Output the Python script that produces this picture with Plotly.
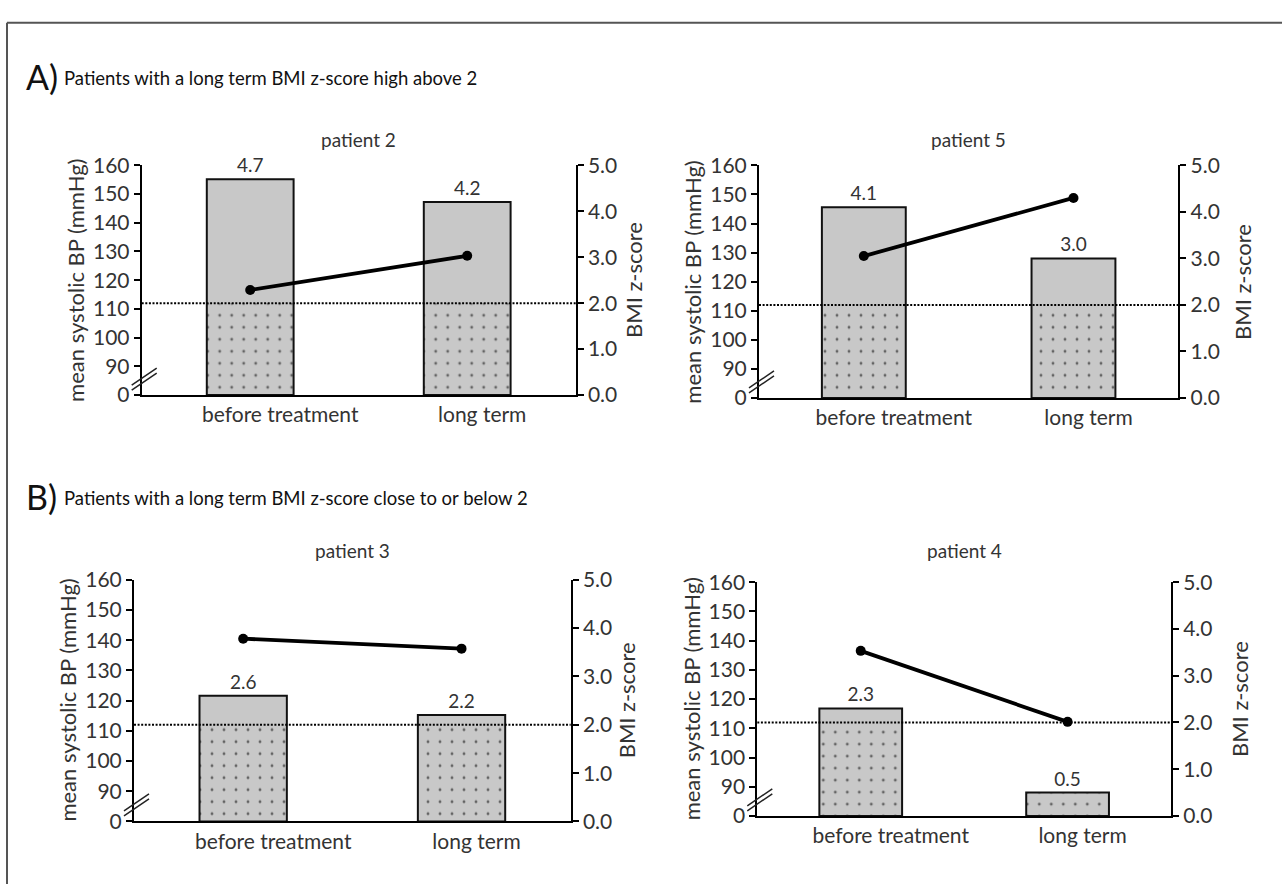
import plotly.graph_objects as go

W, H = 1282, 895

# ---------------- data ----------------
categories = ["before treatment", "long term"]
patient_names = ["patient 2", "patient 5", "patient 3", "patient 4"]

bmi_p2 = [4.7, 4.2]
bmi_p5 = [4.1, 3.0]
bmi_p3 = [2.6, 2.2]
bmi_p4 = [2.3, 0.5]

bp_p2 = [116.6, 128.5]
bp_p5 = [128.8, 148.8]
bp_p3 = [140.5, 137.2]
bp_p4 = [136.5, 112.2]

bp_tickvals = [80, 90, 100, 110, 120, 130, 140, 150, 160]
bp_ticktext = ["0", "90", "100", "110", "120", "130", "140", "150", "160"]
z_tickvals = [0, 1, 2, 3, 4, 5]
z_ticktext = ["0.0", "1.0", "2.0", "3.0", "4.0", "5.0"]
z_threshold = 2.0

section_A = "Patients with a long term BMI z-score high above 2"
section_B = "Patients with a long term BMI z-score close to or below 2"
bp_title = "mean systolic BP (mmHg)"
z_title = "BMI z-score"

bmi_all = [bmi_p2, bmi_p5, bmi_p3, bmi_p4]
bp_all = [bp_p2, bp_p5, bp_p3, bp_p4]

# ---------------- layout (pixel boxes of each panel) ----------------
boxes = [  # x_left, x_right, y_top, y_bottom
    (141.7, 575.7, 155.7, 392.0),
    (759.0, 1178.3, 155.7, 395.0),
    (134.0, 570.7, 582.0, 830.7),
    (757.3, 1171.0, 584.5, 825.0),
]
title_y_px = [129, 129, 552, 552]
right_title_shift = [58, 64, 56, 68]
label_shift_px = [30, 15]

GRAY = "#c8c8c8"
TXT = "#333333"
FONT = "Lato, 'Open Sans', sans-serif"

fig = go.Figure()
layout = dict(
    width=W, height=H, margin=dict(l=0, r=0, t=0, b=0),
    paper_bgcolor="white", plot_bgcolor="rgba(0,0,0,0)",
    barmode="overlay", showlegend=False,
    font=dict(family=FONT, color=TXT, size=18),
)
annotations = []
shapes = []


def axkey(aid):
    return aid[0] + "axis" + aid[1:]


xs = list(range(len(categories)))

for i in range(4):
    n = i + 1
    xid = "x" if n == 1 else f"x{n}"
    zid = "y" if n == 1 else f"y{2 * n - 1}"
    bpid = f"y{2 * n}"
    x0p, x1p, y0p, y1p = boxes[i]
    bmi = bmi_all[i]
    bp = bp_all[i]
    slot_px = (x1p - x0p) / 2.0

    fig.add_trace(go.Bar(x=xs, y=bmi, width=0.4, xaxis=xid, yaxis=zid,
                         marker=dict(color=GRAY, line=dict(width=0)), hoverinfo="skip"))
    fig.add_trace(go.Bar(x=xs, y=[min(v, z_threshold) for v in bmi], width=0.4,
                         xaxis=xid, yaxis=zid,
                         marker=dict(color=GRAY, line=dict(width=0),
                                     pattern=dict(shape=".", fgcolor="#000000", bgcolor=GRAY,
                                                  size=12, solidity=0.045)),
                         hoverinfo="skip"))
    fig.add_trace(go.Bar(x=xs, y=bmi, width=0.4, xaxis=xid, yaxis=zid,
                         marker=dict(color="rgba(0,0,0,0)", line=dict(color="#111111", width=2)),
                         text=[f"{v:.1f}" for v in bmi], textposition="outside",
                         textfont=dict(size=19, color=TXT, family=FONT), cliponaxis=False))
    fig.add_trace(go.Scatter(x=xs, y=bp, xaxis=xid, yaxis=bpid, mode="lines+markers",
                             line=dict(color="black", width=3.8),
                             marker=dict(color="black", size=10), cliponaxis=False))

    axstyle = dict(showline=True, linecolor="black", linewidth=2, showgrid=False,
                   zeroline=False, fixedrange=True)
    layout[axkey(xid)] = dict(
        domain=[x0p / W, x1p / W], range=[-0.5, 1.5], anchor=zid,
        tickvals=[k + label_shift_px[k] / slot_px for k in xs], ticktext=categories,
        ticks="", tickfont=dict(size=21, color=TXT), **axstyle)
    layout[axkey(zid)] = dict(
        domain=[1 - y1p / H, 1 - y0p / H], range=[0, 5], anchor=xid, side="right",
        tickvals=z_tickvals, ticktext=z_ticktext, ticks="outside", ticklen=6, tickwidth=2,
        tickcolor="black", tickfont=dict(size=21, color=TXT), **axstyle)
    layout[axkey(bpid)] = dict(
        overlaying=zid, range=[80, 160], anchor=xid, side="left",
        tickvals=bp_tickvals, ticktext=bp_ticktext, ticks="outside", ticklen=6, tickwidth=2,
        tickcolor="black", tickfont=dict(size=21, color=TXT), **axstyle)

    # threshold dotted line at BMI z-score 2
    shapes.append(dict(type="line", xref=f"{xid} domain", x0=0, x1=1, yref=zid,
                       y0=z_threshold, y1=z_threshold, layer="above",
                       line=dict(color="black", width=2, dash="2px,1.6px")))
    # axis break marks
    for dy in (0, 5):
        shapes.append(dict(type="line", xref=f"{xid} domain", xsizemode="pixel", xanchor=0,
                           x0=-10, x1=15, yref=bpid, ysizemode="pixel", yanchor=84.5,
                           y0=-8 + dy, y1=9 + dy, layer="above",
                           line=dict(color="#222222", width=1.5)))

    annotations.append(dict(text=patient_names[i], xref=f"{xid} domain", x=0.5,
                            yref="paper", y=1 - title_y_px[i] / H, showarrow=False,
                            xanchor="center", yanchor="middle",
                            font=dict(size=19, color=TXT, family=FONT)))
    annotations.append(dict(text=bp_title, xref=f"{xid} domain", x=0, xshift=-66,
                            yref=f"{zid} domain", y=0.5, textangle=-90, showarrow=False,
                            xanchor="center", yanchor="middle",
                            font=dict(size=22, color=TXT, family=FONT)))
    annotations.append(dict(text=z_title, xref=f"{xid} domain", x=1, xshift=right_title_shift[i],
                            yref=f"{zid} domain", y=0.5, textangle=-90, showarrow=False,
                            xanchor="center", yanchor="middle",
                            font=dict(size=22, color=TXT, family=FONT)))

for letter, txt, ypx in (("A)", section_A, 64), ("B)", section_B, 496)):
    annotations.append(dict(text=letter, xref="paper", x=24 / W, yref="paper", y=1 - ypx / H,
                            xanchor="left", yanchor="middle", showarrow=False,
                            font=dict(size=34, color="#111111", family=FONT)))
    annotations.append(dict(text=txt, xref="paper", x=62 / W, yref="paper", y=1 - (ypx + 2) / H,
                            xanchor="left", yanchor="middle", showarrow=False,
                            font=dict(size=18.5, color="#111111", family=FONT)))

# outer frame (top and left edges)
shapes.append(dict(type="line", xref="paper", yref="paper", x0=7 / W, x1=1.0,
                   y0=1 - 9 / H, y1=1 - 9 / H, line=dict(color="#555555", width=2)))
shapes.append(dict(type="line", xref="paper", yref="paper", x0=7 / W, x1=7 / W,
                   y0=0, y1=1 - 9 / H, line=dict(color="#555555", width=2)))

layout["annotations"] = annotations
layout["shapes"] = shapes
fig.update_layout(**layout)

css = "margin:0;padding:0;overflow:hidden;"
fig.write_html(
    "out.html",
    config={"displayModeBar": False},
    post_script=(
        f"document.documentElement.style.cssText='{css}';"
        f"document.body.style.cssText='{css}';"
    ),
)
